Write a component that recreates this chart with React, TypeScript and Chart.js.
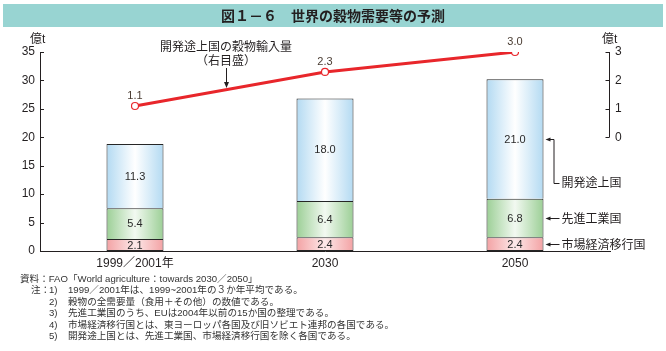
import { useEffect, useRef } from 'react';
import { Chart, registerables } from 'chart.js';

Chart.register(...registerables);

// ---- data ----
const categories = ['1999／2001年', '2030', '2050'];
const seriesNames = ['市場経済移行国', '先進工業国', '開発途上国'];
const transitionValues = [2.1, 2.4, 2.4];
const developedValues = [5.4, 6.4, 6.8];
const developingValues = [11.3, 18.0, 21.0];
const importValues = [1.1, 2.3, 3.0];
const leftTicks = [0, 5, 10, 15, 20, 25, 30, 35];
const rightTicks = [0, 1, 2, 3];
const unitLabel = '億t';
const titleText = '図１－６　世界の穀物需要等の予測';
const lineLabel1 = '開発途上国の穀物輸入量';
const lineLabel2 = '（右目盛）';
const sourceNote = '資料：FAO「World agriculture：towards 2030／2050」';
const noteNums = ['1)', '2)', '3)', '4)', '5)'];
const noteTexts = [
  '1999／2001年は、1999~2001年の３か年平均である。',
  '穀物の全需要量（食用＋その他）の数値である。',
  '先進工業国のうち、EUは2004年以前の15か国の整理である。',
  '市場経済移行国とは、東ヨーロッパ各国及び旧ソビエト連邦の各国である。',
  '開発途上国とは、先進工業国、市場経済移行国を除く各国である。',
];

const FONT = "'Liberation Sans', 'Noto Sans CJK JP', sans-serif";
const TXT = '#231f20';
const RED = '#e8262b';

function grad(edge: string, center: string) {
  return (ctx: any) => {
    const chart = ctx.chart;
    const xs = chart.scales && chart.scales.x;
    if (!xs || ctx.dataIndex === undefined || !xs.width) return edge;
    const cx = xs.getPixelForValue(ctx.dataIndex);
    const w = (xs.width / categories.length) * 0.3;
    const g = chart.ctx.createLinearGradient(cx - w / 2, 0, cx + w / 2, 0);
    g.addColorStop(0, edge);
    g.addColorStop(0.5, center);
    g.addColorStop(1, edge);
    return g;
  };
}

const decorPlugin = {
  id: 'decor',
  beforeDraw(chart: any) {
    const c = chart.ctx;
    c.save();
    c.fillStyle = '#ffffff';
    c.fillRect(0, 0, chart.width, chart.height);
    c.fillStyle = '#98d4d2';
    c.fillRect(3, 4, 660, 23);
    c.fillStyle = TXT;
    c.font = `bold 14px 'Noto Sans CJK JP', sans-serif`;
    c.textAlign = 'center';
    c.textBaseline = 'middle';
    c.fillText(titleText, 333, 16);
    c.restore();
  },
  afterDatasetsDraw(chart: any) {
    const c = chart.ctx;
    const area = chart.chartArea;
    const ys = chart.scales.y;
    const y1 = chart.scales.y1;
    c.save();
    c.strokeStyle = TXT;
    c.lineWidth = 1;
    // inward ticks left
    leftTicks.forEach((v) => {
      const y = Math.round(ys.getPixelForValue(v)) + 0.5;
      c.beginPath();
      c.moveTo(area.left, y);
      c.lineTo(area.left + 4, y);
      c.stroke();
    });
    // right partial axis
    const ra = Math.round(area.right) - 0.5;
    c.beginPath();
    c.moveTo(ra, y1.getPixelForValue(rightTicks[0]));
    c.lineTo(ra, y1.getPixelForValue(rightTicks[rightTicks.length - 1]));
    c.stroke();
    rightTicks.forEach((v) => {
      const y = Math.round(y1.getPixelForValue(v)) + 0.5;
      c.beginPath();
      c.moveTo(ra - 4, y);
      c.lineTo(ra, y);
      c.stroke();
    });
    // unit labels
    c.fillStyle = TXT;
    c.font = `12px ${FONT}`;
    c.textAlign = 'left';
    c.textBaseline = 'middle';
    c.fillText(unitLabel, 30, 40);
    c.fillText(unitLabel, 602, 40);

    // bar value labels
    c.textAlign = 'center';
    c.font = `11px ${FONT}`;
    c.fillStyle = '#2a2a2a';
    const vals = [transitionValues, developedValues, developingValues];
    for (let i = 0; i < 3; i++) {
      const meta = chart.getDatasetMeta(i);
      meta.data.forEach((el: any, j: number) => {
        const p = el.getProps(['x', 'y', 'base'], true);
        c.fillText(vals[i][j].toFixed(1), p.x, (p.y + p.base) / 2 + 0.5);
      });
    }
    // line labels
    const lm = chart.getDatasetMeta(3);
    c.fillStyle = '#4a3c32';
    lm.data.forEach((el: any, j: number) => {
      c.fillText(importValues[j].toFixed(1), el.x, el.y - 10);
    });

    // line annotation
    c.fillStyle = TXT;
    c.font = `12px ${FONT}`;
    c.fillText(lineLabel1, 226, 48);
    c.fillText(lineLabel2, 226, 62);
    c.beginPath();
    c.moveTo(226.5, 68);
    c.lineTo(226.5, 84);
    c.stroke();
    c.beginPath();
    c.moveTo(226.5, 88);
    c.lineTo(224, 82);
    c.lineTo(229, 82);
    c.closePath();
    c.fill();

    // legend leaders
    const last = categories.length - 1;
    const legendY = [0, 0, 183];
    const leaders: { yArrow: number; yText: number; name: string; elbow: boolean }[] = [];
    for (let i = 0; i < 3; i++) {
      const el: any = chart.getDatasetMeta(i).data[last];
      const p = el.getProps(['x', 'y', 'base', 'width'], true);
      const yc = Math.round((p.y + p.base) / 2) + 0.5;
      leaders.push({ yArrow: yc, yText: i === 2 ? legendY[2] + 0.5 : yc + 1, name: seriesNames[i], elbow: i === 2 });
    }
    const el0: any = chart.getDatasetMeta(2).data[last];
    const xr = el0.x + el0.width / 2 + 2;
    leaders.forEach((L) => {
      c.beginPath();
      c.moveTo(xr, L.yArrow);
      c.lineTo(xr + 5, L.yArrow - 2);
      c.lineTo(xr + 5, L.yArrow + 2);
      c.closePath();
      c.fill();
      c.beginPath();
      c.moveTo(xr + 4, L.yArrow);
      if (L.elbow) {
        c.lineTo(xr + 8.5, L.yArrow);
        c.lineTo(xr + 8.5, L.yText);
        c.lineTo(xr + 14, L.yText);
      } else {
        c.lineTo(xr + 14, L.yArrow);
      }
      c.stroke();
      c.textAlign = 'left';
      c.fillText(L.name, xr + 16, L.yText);
    });

    // footnotes
    c.font = `9.6px ${FONT}`;
    c.fillStyle = '#333333';
    c.textAlign = 'left';
    c.fillText(sourceNote, 20, 279);
    c.fillText('注：', 31, 290.5);
    noteNums.forEach((n, k) => {
      const y = 290.5 + k * 11.5;
      c.fillText(n, 49, y);
      c.fillText(noteTexts[k], 68, y);
    });
    c.restore();
  },
};

function barDataset(label: string, data: number[], edge: string, center: string, skip: any) {
  return {
    label,
    data,
    backgroundColor: grad(edge, center),
    borderColor: '#262626',
    borderWidth: 1,
    borderSkipped: skip,
    stack: 'bars',
    yAxisID: 'y',
  };
}

export default function App() {
  const ref = useRef<HTMLCanvasElement | null>(null);
  useEffect(() => {
    if (!ref.current) return;
    const chart = new Chart(ref.current, {
      type: 'bar',
      data: {
        labels: categories,
        datasets: [
          barDataset(seriesNames[0], transitionValues, '#f3a2a4', '#fde9e9', false),
          barDataset(seriesNames[1], developedValues, '#9ccf96', '#f2f9f1', 'bottom'),
          barDataset(seriesNames[2], developingValues, '#b3daf2', '#ffffff', 'bottom'),
          {
            type: 'line',
            label: lineLabel1,
            data: importValues,
            borderColor: RED,
            borderWidth: 3,
            pointRadius: 3.5,
            pointBackgroundColor: '#ffffff',
            pointBorderColor: RED,
            pointBorderWidth: 1.2,
            stack: 'line',
            yAxisID: 'y1',
          } as any,
        ],
      },
      options: {
        responsive: false,
        animation: false,
        devicePixelRatio: 1,
        layout: { padding: { top: 52, left: 0, right: 0, bottom: 0 } },
        datasets: { bar: { barPercentage: 1, categoryPercentage: 0.3 } },
        plugins: { legend: { display: false }, tooltip: { enabled: false }, title: { display: false } },
        scales: {
          x: {
            stacked: true,
            grid: { display: false, drawTicks: false },
            border: { display: true, color: TXT, width: 1 },
            ticks: { color: TXT, font: { family: FONT, size: 12 }, padding: 5, maxRotation: 0 },
            afterFit: (s: any) => { s.height = 100; },
          },
          y: {
            stacked: true,
            min: 0,
            max: 35,
            position: 'left',
            grid: { display: false, drawTicks: false },
            border: { display: true, color: TXT, width: 1 },
            ticks: { stepSize: 5, color: TXT, font: { family: FONT, size: 12 }, padding: 5 },
            afterFit: (s: any) => { s.width = 40; },
          },
          y1: {
            min: -4,
            max: 3,
            position: 'right',
            grid: { display: false, drawTicks: false },
            border: { display: false },
            ticks: {
              stepSize: 1,
              color: TXT,
              font: { family: FONT, size: 12 },
              padding: 5,
              callback: (v: any) => (Number(v) >= 0 ? String(v) : ''),
            },
            afterFit: (s: any) => { s.width = 56; },
          },
        },
      } as any,
      plugins: [decorPlugin],
    });
    return () => chart.destroy();
  }, []);
  return (
    <div style={{ position: 'absolute', left: 0, top: 0, width: 666, height: 351 }}>
      <canvas ref={ref} width={666} height={351} style={{ width: 666, height: 351, display: 'block' }} />
    </div>
  );
}
